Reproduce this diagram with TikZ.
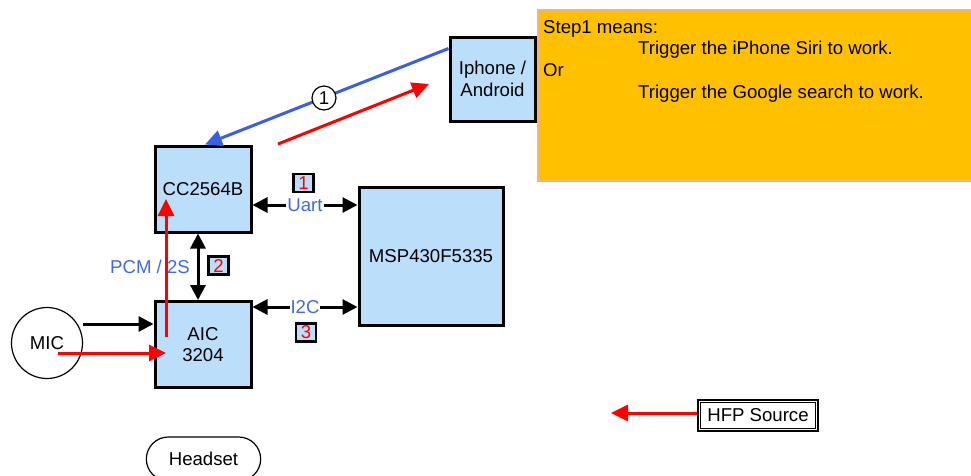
\documentclass[tikz,border=0pt]{standalone}
\usepackage{fontspec}
\setmainfont{Liberation Sans}
\usetikzlibrary{arrows.meta,shapes.geometric,shapes.misc}
\definecolor{boxblue}{RGB}{187,222,251}
\definecolor{lineblue}{RGB}{58,95,224}
\definecolor{textblue}{RGB}{65,105,225}
\definecolor{noteorange}{RGB}{255,192,0}
\definecolor{noteborder}{RGB}{244,177,131}
\begin{document}
\begin{tikzpicture}[x=1pt,y=-1pt,
  font=\fontsize{18.6}{21.7}\selectfont,
  blk/.style={draw=black,line width=3pt,fill=boxblue,align=center,inner sep=0pt},
  tag/.style={draw=black,line width=2.4pt,fill=boxblue,text=red,minimum width=20pt,minimum height=18pt,inner sep=0pt},
  bus/.style={line width=3pt,{Triangle[length=15pt,width=15pt]}-{Triangle[length=15pt,width=15pt]}},
  one/.style={line width=3pt,-{Triangle[length=15pt,width=15pt]}},
  redarr/.style={red,line width=3pt,-{Triangle[length=17pt,width=16pt]}},
  bluearr/.style={lineblue,line width=3pt,-{Triangle[length=17pt,width=16pt]}},
  thinline/.style={draw=black,line width=1.2pt},
  lbl/.style={text=textblue,fill=white,inner sep=1pt}]
\useasboundingbox (0,0) rectangle (971,475);

% note box
\node[draw=noteborder,line width=2.4pt,fill=noteorange,minimum width=438pt,minimum height=171pt,anchor=north west,inner sep=0pt] (note) at (537,9) {};
\node[anchor=north west,align=left,inner sep=0pt] (notetext) at (543,20)
  {Step1 means:\\\hspace*{95pt}Trigger the iPhone Siri to work.\\Or\\\hspace*{95pt}Trigger the Google search to work.};

% blocks
\node[blk,minimum width=85pt,minimum height=84pt] (iph) at (492.5,79) {Iphone /\\Android};
\node[blk,minimum width=96pt,minimum height=86pt] (cc) at (203,189) {CC2564B};
\node[blk,minimum width=96pt,minimum height=86pt] (aic) at (203,344.5) {AIC\\3204};
\node[blk,minimum width=144pt,minimum height=138pt] (msp) at (431,256) {MSP430F5335};
\node[thinline,circle,minimum size=71pt,inner sep=0pt] (mic) at (47,343) {MIC};
\node[thinline,rounded rectangle,minimum width=121pt,minimum height=44pt] (head) at (203.5,459) {Headset};
\node[thinline,minimum width=120pt,minimum height=31pt,inner sep=1pt] (hfp) at (758,415.5) {HFP Source};
\draw[black,line width=1.2pt] ([xshift=2.8pt,yshift=-2.8pt]hfp.north west) rectangle ([xshift=-2.8pt,yshift=2.8pt]hfp.south east);

% blue link with step 1
\draw[bluearr] ([yshift=-13pt]iph.north west) -- ([xshift=2pt]cc.north);
\node[thinline,circle,fill=white,minimum size=24pt,inner sep=0pt] (s1) at (324,98) {1};

% red link toward phone
\coordinate (ra) at (278,144);
\coordinate (rb) at (429,84);
\draw[redarr] (ra) -- (rb);

% buses
\draw[bus] (cc.east |- 0,205) -- (msp.west |- 0,205);
\node[lbl] (uart) at (305,205) {Uart};
\node[tag] (t1) at (303.5,183) {1};
\draw[bus] (cc.south -| 198,0) -- (aic.north -| 198,0);
\node[tag] (t2) at (218.5,265.5) {2};
\node[text=textblue,inner sep=0pt] (pcm) at (150,267) {PCM / 2S};
\draw[bus] (aic.east |- 0,307) -- (msp.west |- 0,307);
\node[lbl] (i2c) at (305,307) {I2C};
\node[tag] (t3) at (306,332.5) {3};

% mic arrows
\draw[one] (mic.east |- 0,324) -- (aic.west |- 0,324);
\coordinate (mr) at (58,353);
\coordinate (me) at (166,353);
\draw[redarr] (mr) -- (me);
\coordinate (pu) at (166,337);
\coordinate (pt) at (166,199);
\draw[redarr] (pu) -- (pt);

% HFP
\coordinate (hfpend) at (611,413);
\draw[redarr] (hfp.west |- 0,413) -- (hfpend);
\end{tikzpicture}
\end{document}
